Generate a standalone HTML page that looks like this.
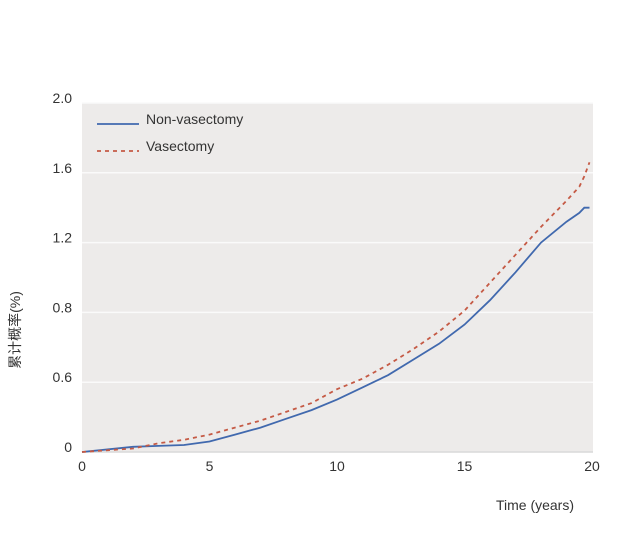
<!DOCTYPE html>
<html><head><meta charset="utf-8"><style>
body{margin:0;background:#fff;}
svg text{font-family:"Liberation Sans","Noto Sans CJK SC",sans-serif;fill:#333;}
</style></head><body>
<svg width="640" height="538">
<rect x="82" y="103" width="511" height="349" fill="#edebea"/>
<g id="grid"></g><g id="yt"></g><g id="xt"></g>
<path id="blue" fill="none" stroke="#4169ae" stroke-width="1.8"/>
<path id="red" fill="none" stroke="#c55a45" stroke-width="1.8" stroke-dasharray="4,4"/>
<g>
<line x1="97" y1="124" x2="139" y2="124" stroke="#4169ae" stroke-width="1.8"/>
<text x="146" y="124" font-size="14">Non-vasectomy</text>
<line x1="97" y1="151" x2="139" y2="151" stroke="#c55a45" stroke-width="1.8" stroke-dasharray="4,4"/>
<text x="146" y="151" font-size="14">Vasectomy</text>
</g>
<text transform="translate(20,330) rotate(-90)" text-anchor="middle" font-size="14">累计概率(%)</text>
<text x="535" y="510" text-anchor="middle" font-size="14">Time (years)</text>
</svg>
<script>
const yTickLabels=["0","0.6","0.8","1.2","1.6","2.0"];
const yTickValues=[0,0.4,0.8,1.2,1.6,2.0];
const xTicks=[0,5,10,15,20];
const times=[0,2,3,4,5,6,7,8,9,10,11,12,13,14,15,16,17,18,19,19.5,19.7,19.9];
const nonVas=[0,0.03,0.035,0.04,0.06,0.1,0.14,0.19,0.24,0.30,0.37,0.44,0.53,0.62,0.73,0.87,1.03,1.20,1.32,1.37,1.40,1.40];
const vas=[0,0.02,0.05,0.07,0.10,0.14,0.18,0.23,0.28,0.36,0.42,0.50,0.59,0.69,0.81,0.97,1.13,1.29,1.44,1.52,1.58,1.66];
const X=t=>82+t*25.5, Y=v=>452-v*174.5;
const ns="http://www.w3.org/2000/svg";
const grid=document.getElementById('grid'),yt=document.getElementById('yt'),xt=document.getElementById('xt');
yTickValues.forEach((v,i)=>{
 const l=document.createElementNS(ns,'line');
 
 
 l.setAttribute('x1',82);l.setAttribute('x2',593);l.setAttribute('y1',Y(v));l.setAttribute('y2',Y(v));
 l.setAttribute('stroke',i==0?'#d9d9d9':'#fafafa');l.setAttribute('stroke-width',1.5);grid.appendChild(l);
 const t=document.createElementNS(ns,'text');
 
 
 t.setAttribute('x',72);t.setAttribute('y',Y(v)-0);t.setAttribute('text-anchor','end');t.setAttribute('font-size','14');
 t.textContent=yTickLabels[i];yt.appendChild(t);
});
xTicks.forEach(v=>{
 const t=document.createElementNS(ns,'text');
 
 
 t.setAttribute('x',X(v));t.setAttribute('y',471);t.setAttribute('text-anchor','middle');t.setAttribute('font-size','14');
 t.textContent=v;xt.appendChild(t);
});
const path=arr=>arr.map((v,i)=>(i?'L':'M')+X(times[i]).toFixed(1)+','+Y(v).toFixed(1)).join('');
document.getElementById('blue').setAttribute('d',path(nonVas));
document.getElementById('red').setAttribute('d',path(vas));
</script>
</body></html>
